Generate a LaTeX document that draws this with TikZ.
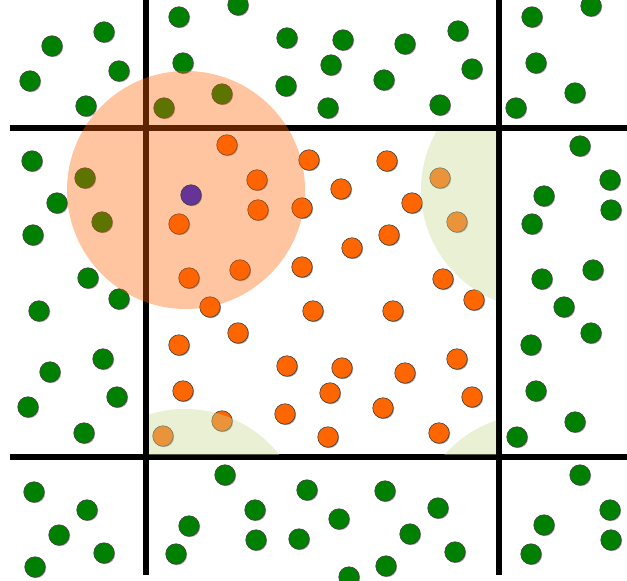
\documentclass[tikz,border=0pt]{standalone}
\usetikzlibrary{shadows}
\definecolor{dotgreen}{RGB}{0,128,0}
\definecolor{dotorange}{RGB}{255,102,0}
\definecolor{dotpurple}{RGB}{102,51,153}
\definecolor{zoneorange}{RGB}{255,97,0}
\definecolor{zonegreen}{RGB}{202,217,147}
\tikzset{
  dotbase/.style={circle, minimum size=20.5pt, inner sep=0pt, draw=black!75, line width=0.6pt,
    drop shadow={shadow xshift=0.9pt, shadow yshift=-0.9pt, opacity=0.35, fill=black}},
  gdot/.style={dotbase, fill=dotgreen},
  odot/.style={dotbase, fill=dotorange},
  pdot/.style={dotbase, fill=dotpurple},
  gridline/.style={line width=6pt, black},
  orangezone/.style={fill=zoneorange, fill opacity=0.37},
  greenzone/.style={fill=zonegreen, fill opacity=0.4}
}
\begin{document}
\begin{tikzpicture}[x=1pt,y=-1pt]
\useasboundingbox (0,0) rectangle (627,581);
% grid
\coordinate (h1a) at (10,128); \coordinate (h1b) at (627,128);
\coordinate (h2a) at (10,457); \coordinate (h2b) at (627,457);
\coordinate (v1a) at (146,0); \coordinate (v1b) at (146,575);
\coordinate (v2a) at (499,0); \coordinate (v2b) at (499,575);
\draw[gridline] (h1a) -- (h1b);
\draw[gridline] (h2a) -- (h2b);
\draw[gridline] (v1a) -- (v1b);
\draw[gridline] (v2a) -- (v2b);
% green dots
\foreach \x/\y [count=\i] in {52/46,104/32,30/81,119/71,86/106,
  179/17,238/5,183/63,287/38,286/86,328/108,343/40,405/44,331/65,458/31,472/69,384/80,440/105,
  164/108,222/94,85/178,102/222,
  532/17,591/6,536/63,575/93,516/108,
  32/161,57/203,33/235,88/278,119/299,39/311,103/359,50/372,117/397,28/407,84/433,
  580/146,610/180,544/196,611/210,532/224,542/279,593/270,564/307,591/333,531/345,536/391,575/422,517/437,
  34/492,87/510,59/535,104/553,35/567,
  225/475,307/490,255/510,189/526,256/540,299/539,176/554,385/491,438/508,339/519,410/534,455/552,386/566,349/577,
  580/475,610/510,544/525,611/540,531/554}
  \node[gdot] (g\i) at (\x,\y) {};
% orange dots
\foreach \x/\y [count=\i] in {227/145,309/160,387/161,341/189,257/180,258/210,302/208,412/203,179/224,
  389/235,352/248,302/267,240/270,189/278,443/279,474/300,210/307,313/311,393/311,238/333,179/345,
  287/366,342/368,405/373,457/359,183/391,330/393,472/397,285/414,383/408,328/437,439/433,
  440/178,457/222,163/436,222/421}
  \node[odot] (o\i) at (\x,\y) {};
% query zone
\coordinate (qc) at (186,190);
\fill[orangezone] (qc) circle[radius=119];
% neighbouring zones clipped to the central cell
\begin{scope}
  \clip (149,131) rectangle (496,454);
  \coordinate (z1) at (540,190);
  \coordinate (z2) at (185,529);
  \coordinate (z3) at (535,535);
  \fill[greenzone] (z1) circle[radius=119];
  \fill[greenzone] (z2) circle[radius=120];
  \fill[greenzone] (z3) circle[radius=121];
\end{scope}
% query point
\node[pdot] (p) at (191,195) {};
\end{tikzpicture}
\end{document}
